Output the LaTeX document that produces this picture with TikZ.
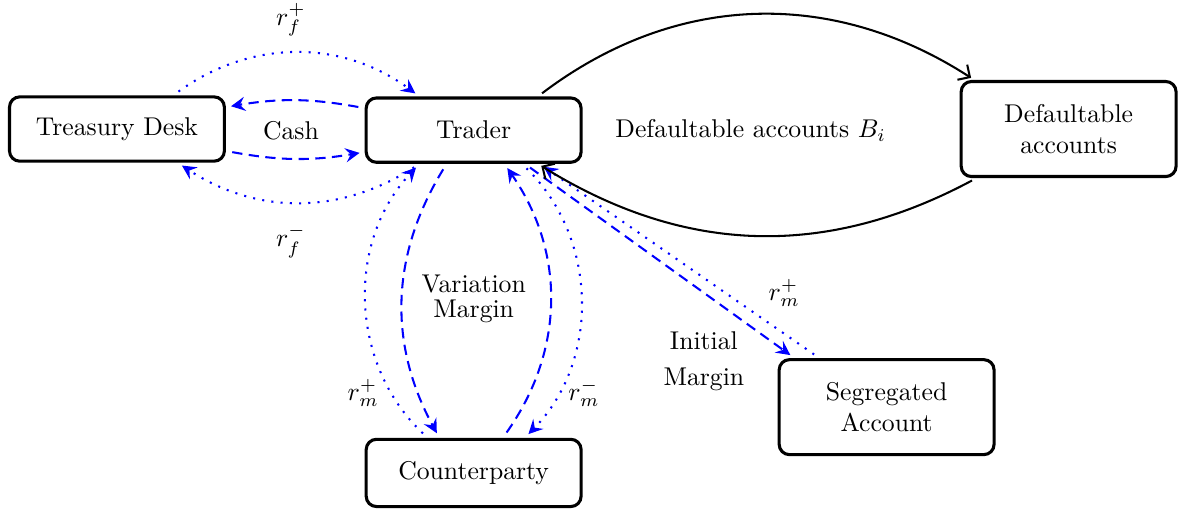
\documentclass[tikz,border=0pt]{standalone}
\usetikzlibrary{arrows.meta}
\begin{document}
\begin{tikzpicture}[x=1cm, y=1cm, every node/.append style={text=black},
	box/.style={draw, very thick, rounded corners, minimum width=2.94cm, minimum height=0.88cm, align=center},
	flow/.style={-{Stealth[length=5.5pt, width=5.5pt, inset=2pt]}, blue, thick, dash pattern=on 4pt off 2.5pt, shorten >=2pt, shorten <=2.5pt},
	rate/.style={-{Stealth[length=5.5pt, width=5.5pt, inset=2pt]}, blue, thick, dash pattern=on 0.8pt off 2.8pt, shorten >=2pt, shorten <=2.5pt},
	acct/.style={-{Straight Barb[length=3.5pt, width=7pt]}, thick, shorten >=1.5pt, shorten <=2pt}]
\useasboundingbox (0,0) rectangle (16.13,-7.0);
	% accounts
	\node[box] (td) at (1.60,-1.765) {Treasury Desk};
	\node[box] (tr) at (6.48,-1.78) {Trader};
	\node[box, minimum height=1.3cm] (da) at (14.62,-1.765) {Defaultable\\accounts};
	\node[box, minimum height=0.92cm] (cp) at (6.48,-6.47) {Counterparty};
	\node[box, minimum height=1.3cm] (sa) at (12.13,-5.57) {Segregated\\Account};
	
	% labels
	\node (cash) at (3.98,-1.79) {Cash};
	\node (rfp) at (3.98,-0.27) {$r_f^+$};
	\node (rfm) at (3.98,-3.30) {$r_f^-$};
	\node[align=center] (vm) at (6.48,-4.09) {Variation\\[-2pt]Margin};
	\node (rmpl) at (4.97,-5.38) {$r_m^+$};
	\node (rmm) at (7.99,-5.38) {$r_m^-$};
	\node (rmpr) at (10.73,-4.01) {$r_m^+$};
	\node[align=center] (im) at (9.63,-4.94) {Initial\\[2pt]Margin};
	\node (bi) at (10.27,-1.79) {Defaultable accounts $B_i$};
	
	% cash and funding
	\draw[flow] ([yshift=0.3cm]tr.west) to[bend right=10] ([yshift=0.3cm]td.east);
	\draw[flow] ([yshift=-0.3cm]td.east) to[bend right=10] ([yshift=-0.3cm]tr.west);
	\draw[rate] ([xshift=0.77cm]td.north) to[bend left=36] ([xshift=-0.74cm]tr.north);
	\draw[rate] ([xshift=-0.74cm]tr.south) to[bend left=33] ([xshift=0.83cm]td.south);
	
	% variation margin
	\draw[flow] ([xshift=-0.37cm]tr.south) to[bend right=30] ([xshift=-0.47cm]cp.north);
	\draw[flow] ([xshift=0.40cm]cp.north) to[bend right=35] ([xshift=0.42cm]tr.south);
	\draw[rate] ([xshift=-0.63cm]cp.north) to[bend left=45] ([xshift=-0.74cm]tr.south);
	\draw[rate] ([xshift=0.66cm]tr.south) to[bend left=45] ([xshift=0.70cm]cp.north);
	
	% initial margin
	\draw[flow] ([xshift=0.70cm]tr.south) -- ([xshift=-1.26cm]sa.north);
	\draw[rate] ([xshift=-0.92cm]sa.north) -- ([xshift=0.90cm]tr.south);
	
	% defaultable accounts
	\draw[acct] ([xshift=0.88cm]tr.north) to[bend left=35] ([xshift=-1.29cm]da.north);
	\draw[acct] ([xshift=-1.26cm]da.south) to[bend left=30] ([xshift=0.88cm]tr.south);
\end{tikzpicture}
\end{document}
